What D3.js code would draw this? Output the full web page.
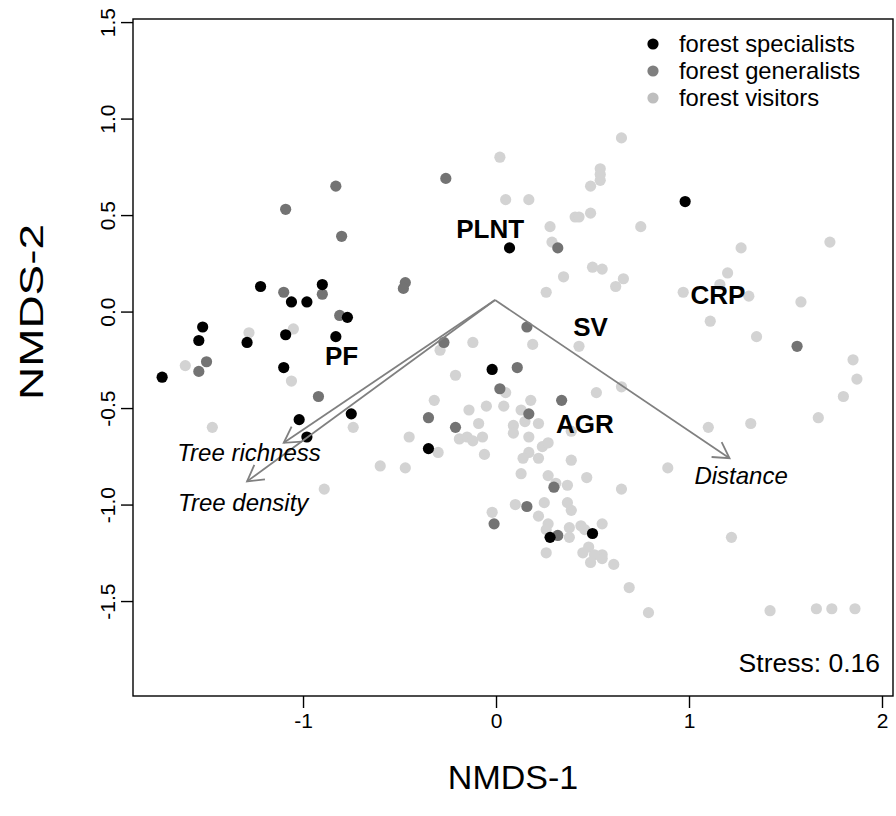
<!DOCTYPE html>
<html>
<head>
<meta charset="utf-8">
<title>NMDS</title>
<script src="https://cdnjs.cloudflare.com/ajax/libs/d3/7.8.5/d3.min.js"></script>
<style>
  body { margin: 0; background: #fff; }
  text { font-family: "Liberation Sans", Arial, Helvetica, sans-serif; }
</style>
</head>
<body>
<script>
// site scores
const specX = [-1.22, -1.06, -0.98, -0.90, -0.77, -1.52, -1.09, -0.83, -1.54, -1.29, -1.73, -1.10, -0.75, -1.02, -0.98, -0.02, 0.07, -0.35, 0.98, 0.28, 0.50];
const specY = [0.13, 0.05, 0.05, 0.14, -0.03, -0.08, -0.12, -0.13, -0.15, -0.16, -0.34, -0.29, -0.53, -0.56, -0.65, -0.30, 0.33, -0.71, 0.57, -1.17, -1.15];

const genX = [-0.83, -1.09, -0.80, -1.10, -0.90, -0.81, -1.50, -1.54, -0.92, -0.26, 0.32, -0.47, -0.48, 0.16, 1.56, -0.27, 0.11, 0.02, 0.17, 0.34, -0.35, -0.21, 0.30, 0.16, -0.01, 0.32];
const genY = [0.65, 0.53, 0.39, 0.10, 0.09, -0.02, -0.26, -0.31, -0.44, 0.69, 0.33, 0.15, 0.12, -0.08, -0.18, -0.16, -0.29, -0.40, -0.53, -0.46, -0.55, -0.60, -0.91, -1.01, -1.10, -1.16];

const visX = [
  -1.28, -1.05, -1.61, -1.06, -1.47, -0.74, -0.89,
  0.02, 0.65, 0.54, 0.54, 0.54, 0.49, 0.05, 0.17, 0.41, 0.43, 0.49, 0.28, 0.29, 0.35, 0.50, 0.55, 0.26, 0.75, 0.66, 0.62, 0.19, 0.43,
  1.27, 1.73, 1.20, 0.97, 1.16, 1.31, 1.58, 1.11, 1.35, 1.85, 1.87, 1.80, 0.65, 1.67, 1.10, 1.32, 0.89, 0.65, 0.55, 0.55, 0.55, 0.61, 1.22, 0.69, 0.79, 1.42, 1.66, 1.74, 1.86,
  -0.29, -0.12, -0.21, 0.05, 0.52, -0.32, -0.14, -0.05, 0.04, 0.18, 0.13, -0.09, 0.09, 0.15, 0.22, -0.45, -0.19, -0.15, -0.12, -0.07, 0.09, 0.17, 0.39, 0.24, 0.27,
  -0.30, -0.06, 0.17, 0.14, 0.22, 0.39, -0.60, -0.47, 0.13, 0.27, 0.31, 0.47, 0.37, 0.10, 0.25, 0.37, 0.39, -0.02, 0.22, 0.27, 0.38, 0.44, 0.46, 0.26, 0.38, 0.26, 0.45, 0.48, 0.51, 0.49
];
const visY = [
  -0.11, -0.09, -0.28, -0.36, -0.60, -0.60, -0.92,
  0.80, 0.90, 0.74, 0.71, 0.68, 0.65, 0.58, 0.58, 0.49, 0.49, 0.51, 0.44, 0.36, 0.18, 0.23, 0.22, 0.10, 0.44, 0.17, 0.13, -0.17, -0.18,
  0.33, 0.36, 0.20, 0.10, 0.14, 0.08, 0.05, -0.05, -0.13, -0.25, -0.35, -0.44, -0.39, -0.55, -0.60, -0.58, -0.81, -0.92, -1.10, -1.26, -1.28, -1.31, -1.17, -1.43, -1.56, -1.55, -1.54, -1.54, -1.54,
  -0.20, -0.16, -0.33, -0.42, -0.42, -0.46, -0.51, -0.49, -0.49, -0.46, -0.51, -0.58, -0.59, -0.57, -0.58, -0.65, -0.66, -0.65, -0.67, -0.65, -0.63, -0.65, -0.62, -0.70, -0.68,
  -0.73, -0.74, -0.73, -0.76, -0.76, -0.77, -0.80, -0.81, -0.84, -0.85, -0.89, -0.86, -0.90, -1.00, -0.99, -0.99, -1.03, -1.04, -1.06, -1.10, -1.12, -1.11, -1.13, -1.13, -1.17, -1.25, -1.25, -1.22, -1.26, -1.30
];

// land-use centroids
const groupNames = ["PLNT", "PF", "SV", "AGR", "CRP"];
const groupX = [-0.03, -0.80, 0.49, 0.46, 1.15];
const groupY = [0.43, -0.23, -0.08, -0.58, 0.09];

// fitted environmental vectors
const vecOrigin = [-0.005, 0.06];
const vecNames = ["Tree richness", "Tree density", "Distance"];
const vecX = [-1.10, -1.29, 1.21];
const vecY = [-0.68, -0.88, -0.76];
const vecLabX = [-1.28, -1.31, 1.27];
const vecLabY = [-0.73, -0.99, -0.85];

const xTicks = [-1, 0, 1, 2];
const yTicks = [1.5, 1.0, 0.5, 0.0, -0.5, -1.0, -1.5];

const legendLabels = ["forest specialists", "forest generalists", "forest visitors"];
const legendColors = ["#000000", "#7f7f7f", "#bebebe"];
const stress = 0.16;

const w = 896;
const h = 816;
const pl = 133, pr = 893, pt = 19, pb = 696;

const x = d3.scaleLinear().domain([-1.881, 2.057]).range([pl, pr]);
const y = d3.scaleLinear().domain([-1.992, 1.516]).range([pb, pt]);

const svg = d3.select("body").append("svg")
  .attr("width", w)
  .attr("height", h);

// points: visitors first, specialists on top
const layers = [
  { xs: visX, ys: visY, col: "#d3d3d3" },
  { xs: genX, ys: genY, col: "#737373" },
  { xs: specX, ys: specY, col: "#000000" }
];
layers.forEach(l => {
  svg.append("g").selectAll("circle")
    .data(d3.range(l.xs.length))
    .enter().append("circle")
    .attr("cx", i => x(l.xs[i]))
    .attr("cy", i => y(l.ys[i]))
    .attr("r", 5.6)
    .attr("fill", l.col);
});

// vectors with open heads
const arrowCol = "#808080";
const headLen = 18, headAng = Math.PI / 6;
const vg = svg.append("g").attr("stroke", arrowCol).attr("stroke-width", 1.8).attr("fill", "none");
vecNames.forEach((n, i) => {
  const x0 = x(vecOrigin[0]), y0 = y(vecOrigin[1]);
  const x1 = x(vecX[i]), y1 = y(vecY[i]);
  vg.append("line").attr("x1", x0).attr("y1", y0).attr("x2", x1).attr("y2", y1);
  const a = Math.atan2(y1 - y0, x1 - x0);
  const p = d3.path();
  p.moveTo(x1 - headLen * Math.cos(a - headAng), y1 - headLen * Math.sin(a - headAng));
  p.lineTo(x1, y1);
  p.lineTo(x1 - headLen * Math.cos(a + headAng), y1 - headLen * Math.sin(a + headAng));
  vg.append("path").attr("d", p.toString());
});

svg.append("g").selectAll("text")
  .data(vecNames)
  .enter().append("text")
  .attr("x", (d, i) => x(vecLabX[i]))
  .attr("y", (d, i) => y(vecLabY[i]))
  .attr("dy", "0.35em")
  .attr("text-anchor", "middle")
  .attr("font-style", "italic")
  .attr("font-size", 24)
  .text(d => d);

svg.append("g").selectAll("text")
  .data(groupNames)
  .enter().append("text")
  .attr("x", (d, i) => x(groupX[i]))
  .attr("y", (d, i) => y(groupY[i]))
  .attr("dy", "0.36em")
  .attr("text-anchor", "middle")
  .attr("font-weight", "bold")
  .attr("font-size", 26)
  .text(d => d);

// box
svg.append("rect")
  .attr("x", pl).attr("y", pt)
  .attr("width", pr - pl).attr("height", pb - pt)
  .attr("fill", "none").attr("stroke", "#000").attr("stroke-width", 1.4);

// axes
const xAxis = d3.axisBottom(x).tickValues(xTicks).tickSize(12).tickPadding(5).tickFormat(d => String(d));
const gx = svg.append("g").attr("transform", "translate(0," + pb + ")").call(xAxis);
gx.select(".domain").remove();
gx.selectAll("line").attr("stroke-width", 1.4);
gx.selectAll("text").attr("font-size", 21).attr("font-family", "Liberation Sans, Arial, sans-serif").attr("fill", "#000");

const yAxis = d3.axisLeft(y).tickValues(yTicks).tickSize(12).tickFormat(d => d.toFixed(1));
const gy = svg.append("g").attr("transform", "translate(" + pl + ",0)").call(yAxis);
gy.select(".domain").remove();
gy.selectAll("line").attr("stroke-width", 1.4);
gy.selectAll("text")
  .attr("font-size", 21).attr("font-family", "Liberation Sans, Arial, sans-serif").attr("fill", "#000")
  .attr("x", 0).attr("y", -18).attr("dy", 0)
  .attr("text-anchor", "middle")
  .attr("transform", "rotate(-90)");

// axis titles
svg.append("text")
  .attr("x", (pl + pr) / 2).attr("y", 789)
  .attr("text-anchor", "middle").attr("font-size", 34)
  .text("NMDS-1");
svg.append("text")
  .attr("transform", "translate(43,312) rotate(-90) scale(1.35,1)")
  .attr("text-anchor", "middle").attr("font-size", 34)
  .text("NMDS-2");

// legend
const lg = svg.append("g").attr("transform", "translate(653,44)");
legendLabels.forEach((t, i) => {
  lg.append("circle").attr("cx", 0).attr("cy", i * 27).attr("r", 5.6).attr("fill", legendColors[i]);
  lg.append("text").attr("x", 26).attr("y", i * 27).attr("dy", "0.35em")
    .attr("font-size", 23.8).text(t);
});

svg.append("text")
  .attr("x", 880).attr("y", 672)
  .attr("text-anchor", "end").attr("font-size", 26.5)
  .text("Stress: " + stress.toFixed(2));
</script>
</body>
</html>
